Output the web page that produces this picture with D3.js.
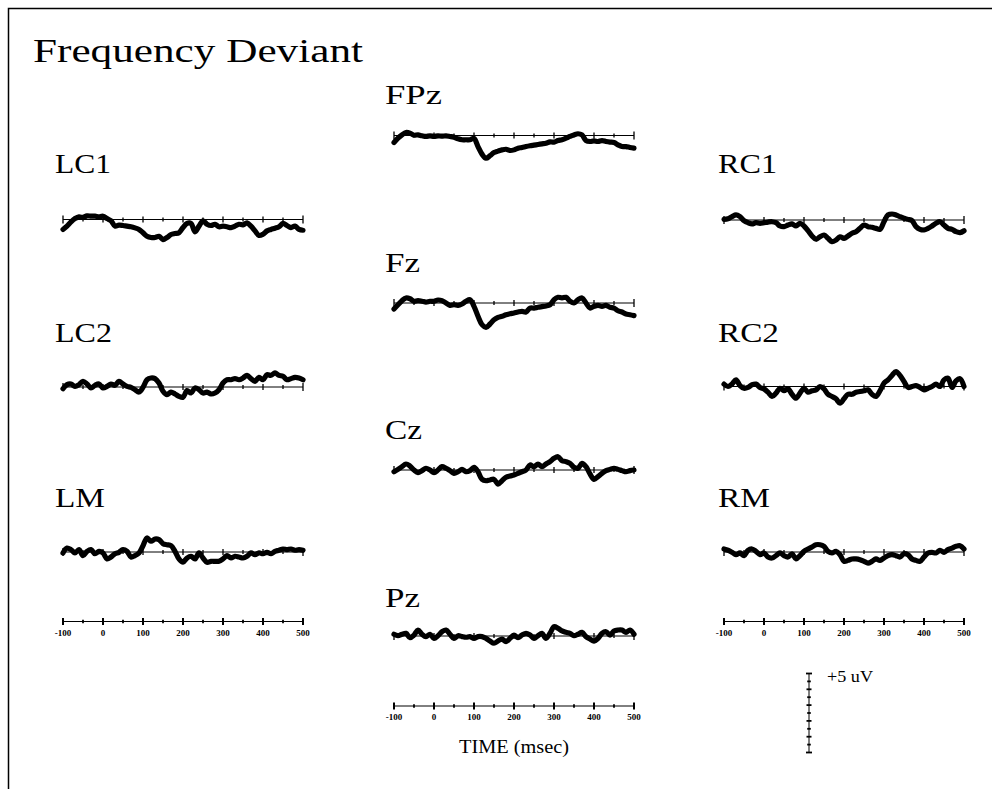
<!DOCTYPE html>
<html><head><meta charset="utf-8">
<script src="https://cdn.jsdelivr.net/npm/d3@7"></script>
<style>body{margin:0;background:#fff}svg{display:block}</style>
</head><body>
<script>
// ---- data (microvolts, sampled every 10 ms from -100 to 500 ms) ----
const times = d3.range(-100, 501, 10);
const tickLabels = [-100, 0, 100, 200, 300, 400, 500];
const minorTicks = d3.range(-100, 501, 50);
const titleText = "Frequency Deviant";
const scaleLabel = "+5 uV";
const timeLabel = "TIME (msec)";
const scaleTicksUV = d3.range(0, 5.01, 0.5);

const LC1 = [-0.63,-0.42,-0.15,0.06,0.17,0.13,0.23,0.21,0.21,0.17,0.21,0.06,-0.08,-0.42,-0.36,-0.38,-0.42,-0.46,-0.53,-0.63,-0.84,-1.06,-1.14,-1.14,-1.06,-1.27,-1.14,-0.95,-0.89,-0.84,-0.51,-0.25,-0.25,-0.78,-0.42,-0.08,-0.30,-0.38,-0.30,-0.46,-0.42,-0.46,-0.51,-0.42,-0.30,-0.34,-0.21,-0.42,-0.72,-1.01,-0.93,-0.72,-0.63,-0.55,-0.46,-0.25,-0.38,-0.51,-0.42,-0.63,-0.68];
const LC2 = [-0.11,0.15,0.19,0.04,0.15,0.36,0.19,-0.06,0.11,0.19,-0.06,0.04,0.19,0.11,0.36,0.19,0.04,-0.02,-0.17,-0.32,-0.02,0.46,0.57,0.53,0.25,-0.27,-0.49,-0.32,-0.44,-0.59,-0.65,-0.23,-0.38,-0.06,-0.17,-0.38,-0.32,-0.44,-0.38,-0.17,0.25,0.46,0.46,0.53,0.46,0.57,0.74,0.53,0.36,0.61,0.46,0.78,0.74,0.89,0.74,0.68,0.46,0.53,0.61,0.57,0.46];
const LM = [-0.06,0.25,0.15,-0.06,0.15,-0.23,0.04,0.15,-0.11,0.04,-0.06,-0.44,-0.32,-0.11,-0.02,0.15,0.04,-0.32,-0.23,-0.06,0.40,0.89,0.68,0.82,0.78,0.53,0.46,0.40,0.04,-0.44,-0.65,-0.38,-0.27,-0.44,-0.06,-0.38,-0.65,-0.59,-0.59,-0.59,-0.44,-0.23,-0.38,-0.27,-0.32,-0.38,-0.27,-0.06,-0.17,-0.06,-0.11,-0.02,-0.11,0.04,0.11,0.19,0.15,0.19,0.11,0.15,0.11];
const FPz = [-0.44,-0.17,0.04,0.19,0.15,0.02,0.04,-0.02,-0.06,-0.02,-0.06,-0.02,-0.04,-0.02,-0.06,-0.11,-0.21,-0.27,-0.27,-0.27,-0.19,-0.70,-1.18,-1.44,-1.28,-1.08,-0.99,-0.91,-0.87,-0.95,-0.91,-0.80,-0.76,-0.70,-0.65,-0.61,-0.57,-0.53,-0.49,-0.40,-0.42,-0.32,-0.27,-0.17,-0.06,0.04,0.11,0.04,-0.32,-0.38,-0.34,-0.38,-0.32,-0.38,-0.42,-0.44,-0.59,-0.70,-0.70,-0.76,-0.80];
const Fz = [-0.38,-0.11,0.15,0.32,0.27,0.11,0.15,0.11,0.06,0.11,0.11,0.19,0.15,0,-0.15,-0.11,-0.15,-0.06,0.11,0.21,-0.21,-0.84,-1.37,-1.54,-1.33,-1.06,-0.91,-0.84,-0.74,-0.68,-0.63,-0.57,-0.53,-0.57,-0.32,-0.32,-0.27,-0.23,-0.19,-0.11,0.21,0.36,0.32,0.36,0.11,0,0.21,0.32,0,-0.32,-0.21,-0.15,-0.21,-0.15,-0.27,-0.32,-0.49,-0.57,-0.70,-0.74,-0.80];
const Cz = [-0.11,0.04,0.21,0.38,0.25,0,-0.17,-0.04,0.11,0,-0.17,0,0.21,0.11,-0.04,-0.21,-0.11,0.04,-0.11,-0.04,0.17,-0.11,-0.59,-0.68,-0.63,-0.59,-0.89,-0.68,-0.46,-0.38,-0.32,-0.21,-0.11,0,0.32,0.21,0.38,0.21,0.38,0.53,0.74,0.84,0.59,0.53,0.42,0.17,0.11,0.42,0.21,-0.25,-0.59,-0.42,-0.21,-0.04,0.04,0.11,0.04,-0.04,-0.11,-0.04,0];
const Pz = [0.11,0.02,0.11,0.17,-0.11,0.06,0.38,0.11,-0.04,0.11,-0.15,0.02,0.27,0.38,0.11,-0.15,0.02,-0.04,-0.08,-0.04,-0.15,-0.04,-0.04,-0.15,-0.32,-0.46,-0.32,-0.19,-0.36,-0.15,0.06,-0.11,0.06,0.17,0.06,-0.15,0.02,0.17,-0.15,0.17,0.59,0.49,0.32,0.23,0.17,0.02,0.11,0.23,-0.04,-0.19,-0.32,-0.15,0.17,0.27,0.06,0.32,0.38,0.38,0.23,0.38,0.11];
const RC1 = [0.04,0.08,0.21,0.32,0.21,-0.04,-0.17,-0.25,-0.17,-0.21,-0.17,-0.13,-0.11,-0.17,-0.38,-0.42,-0.32,-0.25,-0.38,-0.21,-0.38,-0.68,-1.01,-1.22,-1.06,-0.95,-1.16,-1.37,-1.27,-1.06,-1.16,-1.01,-0.84,-0.74,-0.53,-0.32,-0.42,-0.46,-0.53,-0.59,-0.11,0.32,0.38,0.32,0.21,0.11,0.04,-0.04,-0.42,-0.59,-0.63,-0.53,-0.38,-0.21,-0.11,-0.32,-0.53,-0.59,-0.74,-0.80,-0.68];
const RC2 = [0.15,0,0.15,0.42,0.06,-0.11,-0.06,0.11,0.15,-0.06,-0.15,-0.36,-0.63,-0.42,-0.11,-0.27,-0.15,-0.49,-0.74,-0.42,-0.11,-0.36,-0.27,-0.21,0,-0.15,-0.49,-0.63,-0.78,-1.06,-0.78,-0.49,-0.49,-0.36,-0.32,-0.27,-0.21,-0.49,-0.63,-0.27,0.21,0.42,0.70,0.95,0.70,0.32,-0.06,0,0.06,-0.06,-0.21,-0.11,0,0.15,0,0.42,0.53,-0.06,0.36,0.49,0];
const RM = [0.19,0.11,-0.02,-0.17,-0.06,-0.23,0.11,0.19,0.04,-0.17,-0.06,-0.32,-0.38,-0.23,-0.06,-0.23,-0.32,-0.11,-0.44,-0.23,0.04,0.19,0.32,0.46,0.46,0.36,0.04,-0.06,0.04,-0.17,-0.59,-0.53,-0.44,-0.44,-0.49,-0.59,-0.70,-0.59,-0.44,-0.53,-0.38,-0.23,-0.17,-0.23,-0.32,-0.11,-0.17,-0.44,-0.53,-0.59,-0.32,-0.06,-0.02,-0.06,0.11,-0.02,0.15,0.25,0.36,0.40,0.19];

const channelNames = ["LC1","LC2","LM","FPz","Fz","Cz","Pz","RC1","RC2","RM"];
const channelData = [LC1, LC2, LM, FPz, Fz, Cz, Pz, RC1, RC2, RM];

// ---- layout ----
const W = 992, H = 789;
const svg = d3.select("body").append("svg").attr("width", W).attr("height", H);
const SERIF = "'Liberation Serif','Times New Roman',serif";

// frame
svg.append("path").attr("d", `M8.5,${H} L8.5,8.5 L${W},8.5`)
  .attr("fill","none").attr("stroke","#000").attr("stroke-width",1.5);

const colX = {L: 63, C: 394, R: 724};
const panelW = 240;
const uvPx = 79 / 5; // scale-bar: 5 uV spans 79 px
const layout = {
  LC1:{x:colX.L, y:219.5, lx:55, ly:173, lw:56},
  LC2:{x:colX.L, y:387,   lx:55, ly:342, lw:57},
  LM: {x:colX.L, y:552,   lx:55, ly:507, lw:50},
  FPz:{x:colX.C, y:135.5, lx:385, ly:104, lw:57},
  Fz: {x:colX.C, y:303,   lx:385, ly:272, lw:35},
  Cz: {x:colX.C, y:470,   lx:385, ly:439, lw:37},
  Pz: {x:colX.C, y:636,   lx:385, ly:607, lw:35},
  RC1:{x:colX.R, y:220,   lx:718, ly:173, lw:59},
  RC2:{x:colX.R, y:386.5, lx:718, ly:342, lw:61},
  RM: {x:colX.R, y:552,   lx:718, ly:507, lw:52}
};

svg.append("text").attr("x", 33).attr("y", 62)
  .attr("font-family", SERIF).attr("font-size", 34)
  .attr("textLength", 330).attr("lengthAdjust","spacingAndGlyphs")
  .text(titleText);

channelNames.forEach((name, i) => {
  const L = layout[name];
  const x = d3.scaleLinear().domain([-100, 500]).range([L.x, L.x + panelW]);
  const y = d3.scaleLinear().domain([0, 1]).range([L.y, L.y - uvPx]);
  const g = svg.append("g");
  // baseline axis
  g.append("line").attr("x1", x(-100)).attr("x2", x(500))
    .attr("y1", L.y).attr("y2", L.y).attr("stroke","#000").attr("stroke-width",1);
  g.selectAll("line.tk").data(minorTicks).enter().append("line")
    .attr("x1", d => x(d)).attr("x2", d => x(d))
    .attr("y1", d => L.y - (d === -100 || d === 500 ? 4 : (d % 100 === 0 ? 3 : 2)))
    .attr("y2", d => L.y + (d === -100 || d === 500 ? 4 : (d % 100 === 0 ? 3 : 2)))
    .attr("stroke","#000").attr("stroke-width", 1.3);
  // waveform
  const line = d3.line().x((d, j) => x(times[j])).y(d => y(d)).curve(d3.curveCatmullRom.alpha(0.5));
  g.append("path").datum(channelData[i]).attr("d", line)
    .attr("fill","none").attr("stroke","#000").attr("stroke-width",5.2)
    .attr("stroke-linejoin","round").attr("stroke-linecap","round");
  // label
  svg.append("text").attr("x", L.lx).attr("y", L.ly)
    .attr("font-family", SERIF).attr("font-size", 27)
    .attr("textLength", L.lw).attr("lengthAdjust","spacingAndGlyphs")
    .text(name);
});

// labelled time axes
function timeAxis(x0, y0) {
  const x = d3.scaleLinear().domain([-100, 500]).range([x0, x0 + panelW]);
  const g = svg.append("g");
  g.append("line").attr("x1", x(-100)).attr("x2", x(500)).attr("y1", y0).attr("y2", y0)
    .attr("stroke","#000").attr("stroke-width",1);
  g.selectAll("line.mj").data(minorTicks).enter().append("line")
    .attr("x1", d => x(d)).attr("x2", d => x(d))
    .attr("y1", d => y0 - (d % 100 === 0 ? 3.5 : 1.8))
    .attr("y2", d => y0 + (d % 100 === 0 ? 3.5 : 1.8))
    .attr("stroke","#000").attr("stroke-width", d => d % 100 === 0 ? 2 : 1.8);
  g.selectAll("text").data(tickLabels).enter().append("text")
    .attr("x", d => x(d)).attr("y", y0 + 14).attr("text-anchor","middle")
    .attr("font-family", SERIF).attr("font-size", 9).attr("font-weight","bold")
    .attr("fill","#000")
    .text(d => d);
}
timeAxis(colX.L, 621.5);
timeAxis(colX.C, 706);
timeAxis(colX.R, 621.5);

svg.append("text").attr("x", 514).attr("y", 753).attr("text-anchor","middle")
  .attr("font-family", SERIF).attr("font-size", 18)
  .attr("textLength", 110).attr("lengthAdjust","spacingAndGlyphs")
  .text(timeLabel);

// voltage scale bar
const yb = d3.scaleLinear().domain([0, 5]).range([752.5, 673.5]);
const sb = svg.append("g");
sb.append("line").attr("x1", 809).attr("x2", 809).attr("y1", yb(0)).attr("y2", yb(5))
  .attr("stroke","#000").attr("stroke-width",1);
sb.selectAll("line.t").data(scaleTicksUV).enter().append("line")
  .attr("x1", d => 809 - (d === 0 || d === 5 ? 3 : (d % 1 === 0 ? 2.5 : 1.8)))
  .attr("x2", d => 809 + (d === 0 || d === 5 ? 3 : (d % 1 === 0 ? 2.5 : 1.8)))
  .attr("y1", d => yb(d)).attr("y2", d => yb(d))
  .attr("stroke","#000").attr("stroke-width", 1.8);
svg.append("text").attr("x", 827).attr("y", 682)
  .attr("font-family", SERIF).attr("font-size", 17)
  .attr("textLength", 46).attr("lengthAdjust","spacingAndGlyphs")
  .text(scaleLabel);
</script>
</body></html>
